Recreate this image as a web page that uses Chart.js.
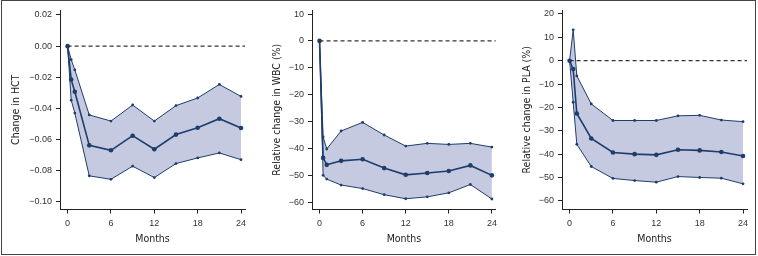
<!DOCTYPE html>
<html>
<head>
<meta charset="utf-8">
<script src="https://cdn.jsdelivr.net/npm/chart.js@4.4.0/dist/chart.umd.min.js"></script>
<style>
body { margin: 0; background: #fff; }
#wrap { position: relative; width: 758px; height: 256px; overflow: hidden; }
.panel { position: absolute; top: 0; height: 256px; }
#frame { position: absolute; left: 1px; top: 0; width: 755px; height: 255px; border: 1px solid #444; box-sizing: border-box; pointer-events: none; }
</style>
</head>
<body>
<div id="wrap">
  <div class="panel" style="left:0;width:252px"><canvas id="hct"></canvas></div>
  <div class="panel" style="left:252px;width:250px"><canvas id="wbc"></canvas></div>
  <div class="panel" style="left:502px;width:256px"><canvas id="pla"></canvas></div>
  <div id="frame"></div>
</div>
<script>
// time points (months)
const months = [0, 0.5, 1, 3, 6, 9, 12, 15, 18, 21, 24];
const monthTicks = [0, 6, 12, 18, 24];

// HCT change
const hctMean  = [0, -0.0215, -0.0293, -0.0637, -0.0669, -0.0575, -0.0662, -0.0568, -0.0524, -0.0466, -0.0526];
const hctUpper = [0, -0.0087, -0.0152, -0.0442, -0.0481, -0.0378, -0.0481, -0.0382, -0.0333, -0.0246, -0.0323];
const hctLower = [0, -0.0347, -0.0430, -0.0833, -0.0855, -0.0771, -0.0844, -0.0754, -0.0718, -0.0686, -0.0729];
const hctTicks = [0.02, 0, -0.02, -0.04, -0.06, -0.08, -0.10];

// WBC relative change (%)
const wbcMean  = [0, -43.5, -46.1, -44.6, -44.0, -47.3, -49.8, -49.1, -48.4, -46.3, -50.0];
const wbcUpper = [0, -35.7, -40.2, -33.5, -30.3, -35.0, -39.1, -38.1, -38.5, -38.1, -39.5];
const wbcLower = [0, -50.0, -51.4, -53.6, -54.9, -57.2, -58.7, -58.0, -56.5, -53.4, -58.8];
const wbcTicks = [10, 0, -10, -20, -30, -40, -50, -60];

// PLA relative change (%)
const plaMean  = [0, -3.6, -22.6, -33.3, -39.3, -40.0, -40.3, -38.1, -38.4, -39.1, -40.8];
const plaUpper = [0, 13.2, -6.5, -18.5, -25.6, -25.6, -25.6, -23.6, -23.4, -25.4, -26.1];
const plaLower = [0, -17.8, -35.8, -45.3, -50.4, -51.3, -52.0, -49.6, -50.0, -50.3, -52.7];
const plaTicks = [20, 10, 0, -10, -20, -30, -40, -50, -60];

const navy = '#1d3d6c';
const band = 'rgb(197,202,225)';
const tickFont = { family: '"Liberation Sans", Arial, sans-serif', size: 9 };
const titleFont = { family: '"Liberation Sans Narrow", "DejaVu Sans Condensed", sans-serif', size: 10.5 };

function pts(arr) {
    return months.map((m, i) => ({ x: m, y: arr[i] }));
}

function minus(s) {
    return String(s).replace('-', '\u2212');
}

function makeChart(id, opts) {
    const xMin = -1.05, xMax = 24.55;
    new Chart(document.getElementById(id), {
        type: 'line',
        data: {
            datasets: [
                {
                    data: [{ x: 0, y: 0 }, { x: xMax, y: 0 }],
                    borderColor: '#333',
                    borderWidth: 1.2,
                    borderDash: [4, 3],
                    pointRadius: 0,
                    fill: false
                },
                {
                    data: pts(opts.mean),
                    borderColor: navy,
                    backgroundColor: navy,
                    borderWidth: 1.6,
                    pointRadius: 2.3,
                    pointBorderWidth: 0,
                    fill: false
                },
                {
                    data: pts(opts.upper),
                    borderColor: navy,
                    backgroundColor: band,
                    pointBackgroundColor: navy,
                    borderWidth: 1,
                    pointRadius: 1.4,
                    pointBorderWidth: 0,
                    fill: '+1'
                },
                {
                    data: pts(opts.lower),
                    borderColor: navy,
                    pointBackgroundColor: navy,
                    borderWidth: 1,
                    pointRadius: 1.4,
                    pointBorderWidth: 0,
                    fill: false
                }
            ]
        },
        options: {
            responsive: true,
            maintainAspectRatio: false,
            animation: false,
            layout: { padding: { top: 10, right: opts.padRight, left: 0, bottom: 0 } },
            plugins: {
                legend: { display: false },
                tooltip: { enabled: false },
                filler: { drawTime: 'beforeDatasetsDraw' }
            },
            scales: {
                x: {
                    type: 'linear',
                    min: xMin,
                    max: xMax,
                    afterBuildTicks: s => { s.ticks = monthTicks.map(v => ({ value: v })); },
                    afterFit: s => { s.height = 46.5; },
                    grid: { drawOnChartArea: false, drawTicks: true, tickLength: 4, color: '#222' },
                    border: { display: true, color: '#222', width: 1 },
                    ticks: { color: '#333', font: tickFont, padding: 5, maxRotation: 0 },
                    title: { display: true, text: 'Months', color: '#222', font: titleFont, padding: { top: 0, bottom: 10 } }
                },
                y: {
                    min: opts.yMin,
                    max: opts.yMax,
                    afterBuildTicks: s => { s.ticks = opts.ticks.map(v => ({ value: v })); },
                    afterFit: s => { s.width = 60; },
                    grid: { drawOnChartArea: false, drawTicks: true, tickLength: 4, color: '#222' },
                    border: { display: true, color: '#222', width: 1 },
                    ticks: { color: '#333', font: tickFont, padding: 4, callback: opts.fmt },
                    title: { display: true, text: opts.title, color: '#222', font: titleFont, padding: { top: opts.titlePad, bottom: 0 } }
                }
            }
        }
    });
}

makeChart('hct', {
    mean: hctMean, upper: hctUpper, lower: hctLower, ticks: hctTicks,
    yMin: -0.1049, yMax: 0.0232, padRight: 7, titlePad: 9.5,
    title: 'Change in HCT',
    fmt: v => minus(v.toFixed(2))
});
makeChart('wbc', {
    mean: wbcMean, upper: wbcUpper, lower: wbcLower, ticks: wbcTicks,
    yMin: -62.7, yMax: 11.5, padRight: 5, titlePad: 19,
    title: 'Relative change in WBC (%)',
    fmt: v => minus(v)
});
makeChart('pla', {
    mean: plaMean, upper: plaUpper, lower: plaLower, ticks: plaTicks,
    yMin: -63.7, yMax: 21.7, padRight: 11, titlePad: 19,
    title: 'Relative change in PLA (%)',
    fmt: v => minus(v)
});
</script>
</body>
</html>
